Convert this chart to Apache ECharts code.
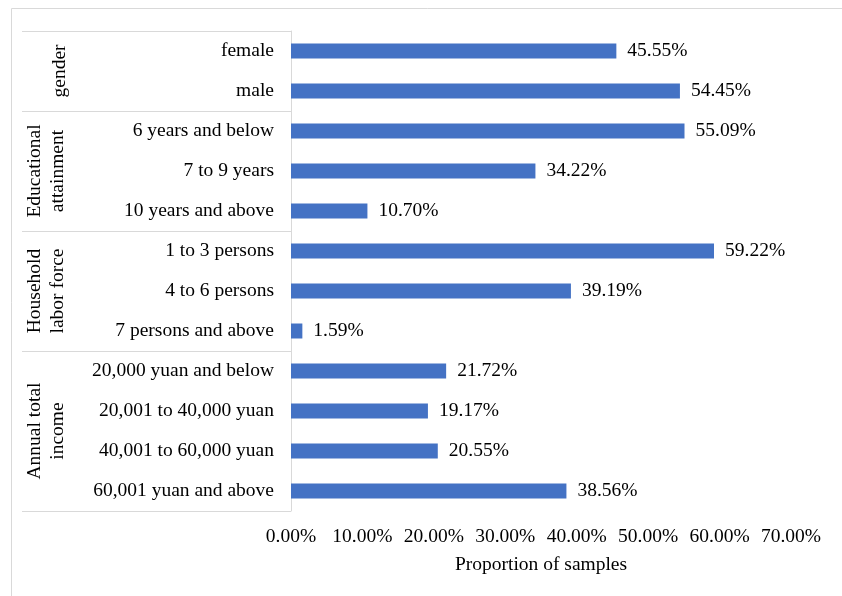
<!DOCTYPE html>
<html>
<head>
<meta charset="utf-8">
<script src="https://cdn.jsdelivr.net/npm/echarts@6/dist/echarts.min.js"></script>
<style>
  html, body { margin: 0; padding: 0; background: #fff; }
  #container { width: 842px; height: 596px; }
</style>
</head>
<body>
<div id="container"></div>
<script>
const categories = [
  "female", "male",
  "6 years and below", "7 to 9 years", "10 years and above",
  "1 to 3 persons", "4 to 6 persons", "7 persons and above",
  "20,000 yuan and below", "20,001 to 40,000 yuan", "40,001 to 60,000 yuan", "60,001 yuan and above"
];
const values = [45.55, 54.45, 55.09, 34.22, 10.70, 59.22, 39.19, 1.59, 21.72, 19.17, 20.55, 38.56];
const groupNames = ["gender", "Educational\nattainment", "Household\nlabor force", "Annual total\nincome"];
const groupSizes = [2, 3, 3, 4];

const font = "'Liberation Serif', 'Times New Roman', serif";
const fs = 19.5;
const lineColor = "#d9d9d9";

const chart = echarts.init(document.getElementById("container"), null, { renderer: "canvas" });

chart.setOption({
  animation: false,
  textStyle: { fontFamily: font },
  grid: { left: 291, right: 51, top: 31, bottom: 85, containLabel: false },
  xAxis: {
    type: "value",
    min: 0,
    max: 70,
    interval: 10,
    splitLine: { show: false },
    axisLine: { show: false },
    axisTick: { show: false },
    axisLabel: {
      margin: 16,
      fontSize: fs,
      color: "#000",
      fontFamily: font,
      formatter: (v) => v.toFixed(2) + "%"
    },
    name: "Proportion of samples",
    nameLocation: "middle",
    nameGap: 44,
    nameTextStyle: { fontSize: fs, color: "#000", fontFamily: font }
  },
  yAxis: {
    type: "category",
    inverse: true,
    data: categories,
    axisLine: { show: true, lineStyle: { color: lineColor, width: 1 } },
    axisTick: { show: false },
    axisLabel: { margin: 17, fontSize: fs, color: "#000", fontFamily: font }
  },
  series: [{
    type: "bar",
    data: values,
    barWidth: 15,
    itemStyle: { color: "#4472c4" },
    label: {
      show: true,
      position: "right",
      distance: 11,
      fontSize: fs,
      color: "#000",
      fontFamily: font,
      formatter: (p) => p.value.toFixed(2) + "%"
    }
  }]
});

// group separators and rotated group labels, placed from the category axis
function drawGroups() {
  const c0 = chart.convertToPixel({ yAxisIndex: 0 }, 0);
  const c1 = chart.convertToPixel({ yAxisIndex: 0 }, 1);
  const band = c1 - c0;
  const axisX = chart.convertToPixel({ xAxisIndex: 0 }, 0);
  const elements = [];
  elements.push({
    type: "rect",
    shape: { x: 11.5, y: 8.5, width: 900, height: 700 },
    style: { fill: null, stroke: lineColor, lineWidth: 1 },
    silent: true
  });
  let start = 0;
  const top = Math.round(c0 - band / 2) + 0.5;
  elements.push({
    type: "line",
    shape: { x1: 22, y1: top, x2: axisX, y2: top },
    style: { stroke: lineColor, lineWidth: 1 }
  });
  groupSizes.forEach((size, g) => {
    const first = chart.convertToPixel({ yAxisIndex: 0 }, start);
    const last = chart.convertToPixel({ yAxisIndex: 0 }, start + size - 1);
    const y0 = first - band / 2;
    const y1 = last + band / 2;
    const yb = Math.round(y1) + 0.5;
    elements.push({
      type: "line",
      shape: { x1: 22, y1: yb, x2: axisX, y2: yb },
      style: { stroke: lineColor, lineWidth: 1 }
    });
    const multi = groupNames[g].indexOf("\n") >= 0;
    elements.push({
      type: "text",
      x: multi ? 46 : 60,
      y: (y0 + y1) / 2,
      rotation: Math.PI / 2,
      style: {
        text: groupNames[g],
        fontSize: fs,
        fontFamily: font,
        fill: "#000",
        align: "center",
        verticalAlign: "middle",
        lineHeight: 23
      }
    });
    start += size;
  });
  chart.setOption({ graphic: elements });
}

drawGroups();
window.addEventListener("resize", chart.resize);
</script>
</body>
</html>
